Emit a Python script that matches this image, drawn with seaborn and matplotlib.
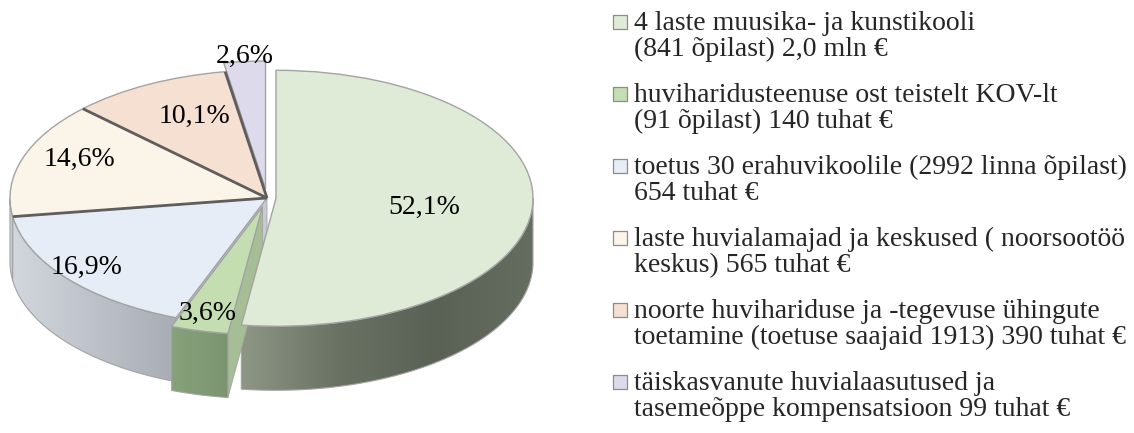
import numpy as np
import matplotlib
matplotlib.use("Agg")
import matplotlib.pyplot as plt
import seaborn as sns
from matplotlib.patches import Rectangle, Patch, Polygon
from matplotlib.legend_handler import HandlerPatch
from matplotlib.colors import LinearSegmentedColormap

# ---- data ----
categories = [
    "4 laste muusika- ja kunstikooli\n(841 õpilast) 2,0 mln €",
    "huviharidusteenuse ost teistelt KOV-lt\n(91 õpilast) 140 tuhat €",
    "toetus 30 erahuvikoolile (2992 linna õpilast)\n654 tuhat €",
    "laste huvialamajad ja keskused ( noorsootöö\nkeskus) 565 tuhat €",
    "noorte huvihariduse ja -tegevuse ühingute\ntoetamine (toetuse saajaid 1913) 390 tuhat €",
    "täiskasvanute huvialaasutused ja\ntasemeõppe kompensatsioon 99 tuhat €",
]
shares = [52.1, 3.6, 16.9, 14.6, 10.1, 2.6]
pct_labels = [f"{s:.1f}%".replace(".", ",") for s in shares]

# ---- styles ----
top_colors = ["#DFEBD6", "#C4DEB2", "#E6EDF6", "#FBF4E8", "#F6E0D2", "#DCDAEB"]
side_grads = [
    ["#8E9686", "#6A7264", "#5A6256", "#656D61"],   # main slice
    ["#86A27A", "#7A9470"],                          # green slice
    ["#D2D6DD", "#A8ADB5"],                          # blue slice
    ["#CDD1D8", "#C4C8CF"],                          # cream slice (tiny)
    ["#D8C4B8", "#D8C4B8"],
    ["#BDBACB", "#BDBACB"],
]
face_colors = {1: "#A6BE96", 2: "#C7CBD2"}
explode = [0.035, 0.07, 0.0, 0.0, 0.0, 0.07]
label_xy = [(0.611, -0.07), (-0.233, -0.9), (-0.704, -0.543), (-0.728, 0.305),
            (-0.284, 0.64), (-0.086, 1.11)]
edge = "#A3A3A3"
depth = 0.5

sns.set_theme(style="white")
plt.rcParams['font.family'] = ['Liberation Serif', 'DejaVu Serif']

fig = plt.figure(figsize=(11.34, 4.33), dpi=100)
ax = fig.add_axes([0, 0, 534 / 1134, 1])

wedges, texts, autotexts = ax.pie(
    shares, colors=top_colors, explode=explode, startangle=90,
    counterclock=False, autopct="%1.1f%%",
    wedgeprops=dict(linewidth=1.0, edgecolor=edge, zorder=10),
    textprops=dict(fontsize=20, color="black", zorder=12))
for t, s, xy in zip(autotexts, pct_labels, label_xy):
    t.set_text(s)
    t.set_position(xy)
    t.set_ha("center")
    t.set_va("center")


def arc(c, r, a0, a1, n=120):
    t = np.radians(np.linspace(a0, a1, n))
    return np.column_stack([c[0] + r * np.cos(t), c[1] + r * np.sin(t)])


def add_side(w, colors, z):
    a0, a1 = max(w.theta1, -180.0), min(w.theta2, 0.0)
    if a0 >= a1:
        return
    top = arc(w.center, w.r, a0, a1)
    bot = top[::-1] - np.array([0, depth])
    verts = np.vstack([top, bot])
    poly = Polygon(verts, closed=True, facecolor="none", edgecolor=edge,
                   lw=0.8, zorder=z + 0.1)
    ax.add_patch(poly)
    cmap = LinearSegmentedColormap.from_list("side", colors)
    grad = np.linspace(0, 1, 256)[None, :]
    im = ax.imshow(grad, cmap=cmap, aspect="auto", origin="lower",
                   interpolation="bilinear", zorder=z,
                   extent=(verts[:, 0].min(), verts[:, 0].max(),
                           verts[:, 1].min(), verts[:, 1].max()))
    im.set_clip_path(poly)


def add_face(w, ang, color, z):
    c = np.array(w.center, dtype=float)
    p = c + w.r * np.array([np.cos(np.radians(ang)), np.sin(np.radians(ang))])
    d = np.array([0, depth])
    ax.add_patch(Polygon([c, p, p - d, c - d], closed=True, facecolor=color,
                         edgecolor=edge, lw=0.6, zorder=z))


add_side(wedges[3], side_grads[3], 1)
add_side(wedges[2], side_grads[2], 2)
add_face(wedges[2], wedges[2].theta2, face_colors[2], 3)
add_side(wedges[0], side_grads[0], 4)
add_face(wedges[1], wedges[1].theta2, face_colors[1], 5)
add_side(wedges[1], side_grads[1], 6)

# dark separators between the un-exploded slices
for ang in (wedges[3].theta2, wedges[3].theta1, wedges[4].theta1):
    c = np.array(wedges[3].center, dtype=float)
    a = np.radians(ang)
    ax.plot([c[0], c[0] + np.cos(a)], [c[1], c[1] + np.sin(a)],
            color="#5E5E5E", lw=2.0, solid_capstyle="butt", zorder=11)

ax.set_aspect("auto")
ax.set_xlim(-267 / 257, 267 / 257)
ax.set_ylim(-235 / 128, 198 / 128)
ax.axis("off")


class TopSquare(HandlerPatch):
    def create_artists(self, legend, orig_handle, xdescent, ydescent,
                       width, height, fontsize, trans):
        s = 0.5 * fontsize
        y = -ydescent + height / 2 - s / 2 + 0.52 * fontsize
        r = Rectangle((-xdescent, y), s, s,
                      facecolor=orig_handle.get_facecolor(),
                      edgecolor="#8c8c8c", lw=0.9, transform=trans)
        return [r]


handles = [Patch(facecolor=c) for c in top_colors]
leg = fig.legend(handles, categories, loc="upper left",
                 bbox_to_anchor=(613 / 1134, 1 - 11 / 433), frameon=False,
                 fontsize=20, handlelength=0.5, handletextpad=0.25,
                 labelspacing=0.76, borderaxespad=0, borderpad=0,
                 handler_map={Patch: TopSquare()})
for t in leg.get_texts():
    t.set_linespacing(1.04)

fig.savefig("out.png", dpi=100, facecolor="white")
